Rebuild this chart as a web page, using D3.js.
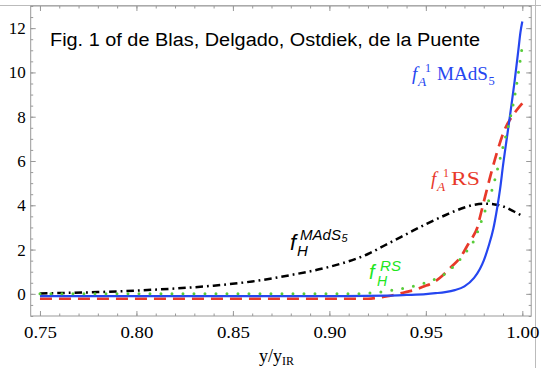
<!DOCTYPE html>
<html>
  <head>
    <meta charset="utf-8">
    <title></title>
    <script type="text/javascript" src="https://d3js.org/d3.v7.min.js"></script>
    <style media="screen">
      body { margin: 0; background: #fff; }
      svg { display: block; }
      .tick text { font-family: "Liberation Serif", "Times New Roman", serif; font-size: 17px; fill: #000; }
      .tick line { stroke: #999; }
      .domain { stroke: none; }
    </style>
  </head>
  <body>
    <div class="vis"></div>

    <script type="text/javascript">

      // tick values
      var xTicks = [0.75, 0.80, 0.85, 0.90, 0.95, 1.00];
      var yTicks = [0, 2, 4, 6, 8, 10, 12];

      // f_A^1 MAdS5 (blue, solid)
      var fAMAdS = [[0.75,-0.1],[0.80,-0.1],[0.85,-0.1],[0.90,-0.1],[0.93,-0.08],[0.94,-0.05],[0.95,-0.01],
        [0.955,0.03],[0.96,0.08],[0.965,0.17],[0.97,0.34],[0.975,0.72],[0.978,1.12],[0.98,1.5],
        [0.9825,2.15],[0.985,2.95],[0.987,3.9],[0.9885,4.75],[0.990,5.8],[0.992,7.05],[0.994,8.3],
        [0.996,9.6],[0.998,11.05],[0.999,11.8],[1.0,12.3]];

      // f_A^1 RS (red, dashed)
      var fARS = [[0.75,-0.22],[0.85,-0.22],[0.92,-0.22],[0.925,-0.18],[0.93,-0.11],[0.935,-0.02],[0.94,0.09],
        [0.945,0.2],[0.9485,0.32],[0.954,0.52],[0.9587,0.83],[0.963,1.2],[0.968,1.66],[0.972,2.25],
        [0.9745,2.6],[0.9765,2.95],[0.978,3.45],[0.9807,4.39],[0.9836,5.37],[0.987,6.43],[0.991,7.45],
        [0.995,8.05],[0.998,8.4],[1.0,8.6]];

      // f_H^RS (green, dotted)
      var fHRS = [[0.75,0.0],[0.85,0.0],[0.915,0.01],[0.92,0.03],[0.925,0.07],[0.93,0.13],[0.9357,0.21],
        [0.9409,0.3],[0.9466,0.41],[0.9518,0.56],[0.9565,0.74],[0.9616,1.0],[0.9651,1.31],[0.9691,1.69],
        [0.9729,2.14],[0.9755,2.5],[0.978,3.1],[0.9805,3.7],[0.9824,4.17],[0.9855,5.07],[0.9881,5.98],
        [0.9907,6.88],[0.9933,7.78],[0.996,8.9],[0.998,10.0],[0.999,10.6],[1.0,11.2]];

      // f_H^MAdS5 (black, dot-dashed)
      var fHMAdS = [[0.75,0.02],[0.78,0.08],[0.80,0.15],[0.82,0.24],[0.84,0.37],[0.86,0.56],[0.88,0.85],
        [0.90,1.22],[0.92,1.8],[0.93,2.25],[0.94,2.7],[0.95,3.15],[0.96,3.55],[0.97,3.9],[0.975,4.02],
        [0.98,4.07],[0.985,4.05],[0.99,3.95],[0.995,3.75],[1.0,3.52]];

      var w = 541;
      var h = 368;

      var xscale = d3.scaleLinear()
        .domain([0.7452, 1.0046])
        .range([30.7, 531.2]);

      var yscale = d3.scaleLinear()
        .domain([-1, 13])
        .range([316, 6]);

      var svg = d3.select('.vis')
        .append('svg')
        .attr('width', w)
        .attr('height', h);

      // outer border lines of the picture
      svg.append('line')
        .attr('x1', 0).attr('x2', w).attr('y1', 5.5).attr('y2', 5.5)
        .attr('stroke', '#bbb');
      svg.append('line')
        .attr('x1', 535.5).attr('x2', 535.5).attr('y1', 0).attr('y2', h)
        .attr('stroke', '#bbb');

      var xMinor = d3.range(75, 101).map(function(d){ return d / 100; });
      var yMinor = d3.range(-2, 27).map(function(d){ return d / 2; });

      // frame
      svg.append('rect')
        .attr('x', xscale.range()[0])
        .attr('y', yscale.range()[1])
        .attr('width', xscale.range()[1] - xscale.range()[0])
        .attr('height', yscale.range()[0] - yscale.range()[1])
        .attr('fill', 'none')
        .attr('stroke', '#999');

      // minor ticks
      svg.append('g').attr('transform', 'translate(0,316)')
        .call(d3.axisBottom(xscale).tickValues(xMinor).tickSize(-2.5).tickFormat(''));
      svg.append('g').attr('transform', 'translate(0,6)')
        .call(d3.axisTop(xscale).tickValues(xMinor).tickSize(-2.5).tickFormat(''));
      svg.append('g').attr('transform', 'translate(30.7,0)')
        .call(d3.axisLeft(yscale).tickValues(yMinor).tickSize(-2.5).tickFormat(''));
      svg.append('g').attr('transform', 'translate(531.2,0)')
        .call(d3.axisRight(yscale).tickValues(yMinor).tickSize(-2.5).tickFormat(''));

      // major ticks
      svg.append('g').attr('class', 'x axis').attr('transform', 'translate(0,316)')
        .call(d3.axisBottom(xscale).tickValues(xTicks).tickSize(-5).tickPadding(6).tickFormat(d3.format('.2f')));
      svg.append('g').attr('transform', 'translate(0,6)')
        .call(d3.axisTop(xscale).tickValues(xTicks).tickSize(-5).tickFormat(''));
      svg.append('g').attr('class', 'y axis').attr('transform', 'translate(30.7,0)')
        .call(d3.axisLeft(yscale).tickValues(yTicks).tickSize(-5).tickPadding(5).tickFormat(d3.format('d')));
      svg.append('g').attr('transform', 'translate(531.2,0)')
        .call(d3.axisRight(yscale).tickValues(yTicks).tickSize(-5).tickFormat(''));

      svg.selectAll('.x.axis .tick text')
        .attr('dy', '0.95em')
        .attr('textLength', 33)
        .attr('lengthAdjust', 'spacingAndGlyphs');

      var line = d3.line()
        .x(function(d){ return xscale(d[0]); })
        .y(function(d){ return yscale(d[1]); })
        .curve(d3.curveMonotoneX);

      var plot = svg.append('g');

      plot.append('path').datum(fHMAdS)
        .attr('d', line).attr('fill', 'none')
        .attr('stroke', '#000').attr('stroke-width', 2.5)
        .attr('stroke-dasharray', '7.5,4,1.8,4');

      plot.append('path').datum(fARS)
        .attr('d', line).attr('fill', 'none')
        .attr('stroke', '#e8392a').attr('stroke-width', 2.7)
        .attr('stroke-dasharray', '12,7');

      plot.append('path').datum(fAMAdS)
        .attr('d', line).attr('fill', 'none')
        .attr('stroke', '#2546f0').attr('stroke-width', 2.2);

      plot.append('path').datum(fHRS)
        .attr('d', line).attr('fill', 'none')
        .attr('stroke', '#58cc3a').attr('stroke-width', 3)
        .attr('stroke-linecap', 'round')
        .attr('stroke-dasharray', '0,11');

      // title
      svg.append('text')
        .attr('x', 50).attr('y', 46)
        .attr('font-family', '"Liberation Sans", Arial, sans-serif')
        .attr('font-size', 18)
        .attr('textLength', 430)
        .attr('lengthAdjust', 'spacingAndGlyphs')
        .attr('fill', '#000')
        .text('Fig. 1 of de Blas, Delgado, Ostdiek, de la Puente');

      // axis label y/y_IR
      var xl = svg.append('text')
        .attr('x', 259).attr('y', 362)
        .attr('font-family', '"Liberation Serif", "Times New Roman", serif')
        .attr('font-size', 18)
        .attr('fill', '#000');
      xl.append('tspan').text('y/y');
      xl.append('tspan').attr('font-size', 12).attr('dy', 3).text('IR');

      var serif = '"Liberation Serif", "Times New Roman", serif';
      var sans = '"Liberation Sans", Arial, sans-serif';

      function put(x, y, str, opts) {
        var t = svg.append('text')
          .attr('x', x).attr('y', y)
          .attr('font-family', opts.family)
          .attr('font-size', opts.size)
          .attr('font-style', opts.italic ? 'italic' : 'normal')
          .attr('fill', opts.color)
          .text(str);
        if (opts.len) {
          t.attr('textLength', opts.len).attr('lengthAdjust', 'spacingAndGlyphs');
        }
      }

      // f_A^1 MAdS5 label
      var cb = '#2546f0';
      put(412, 80, 'f', {family: serif, size: 19, italic: true, color: cb});
      put(418, 86, 'A', {family: serif, size: 13.5, italic: true, color: cb});
      put(425, 72, '1', {family: serif, size: 12, color: cb});
      put(437, 80, 'MAdS', {family: serif, size: 18, color: cb, len: 51});
      put(488.5, 84.5, '5', {family: serif, size: 12.5, color: cb});

      // f_A^1 RS label
      var cr = '#e8392a';
      put(431, 185, 'f', {family: serif, size: 19, italic: true, color: cr});
      put(437, 191, 'A', {family: serif, size: 13.5, italic: true, color: cr});
      put(443, 177, '1', {family: serif, size: 12, color: cr});
      put(451, 185, 'RS', {family: serif, size: 18, color: cr, len: 29});

      // f_H^MAdS5 label
      put(290, 250, 'f', {family: sans, size: 22, italic: true, color: '#000'});
      put(297, 256, 'H', {family: sans, size: 15, italic: true, color: '#000'});
      put(300, 239.5, 'MAdS', {family: sans, size: 15, italic: true, color: '#000', len: 41});
      put(341.5, 242, '5', {family: sans, size: 11, italic: true, color: '#000'});

      // f_H^RS label
      var cg = '#22e61e';
      put(369, 279, 'f', {family: sans, size: 20, italic: true, color: cg});
      put(377, 285.5, 'H', {family: sans, size: 14, italic: true, color: cg});
      put(380, 270.5, 'RS', {family: sans, size: 14, italic: true, color: cg, len: 21});

    </script>
  </body>
</html>
